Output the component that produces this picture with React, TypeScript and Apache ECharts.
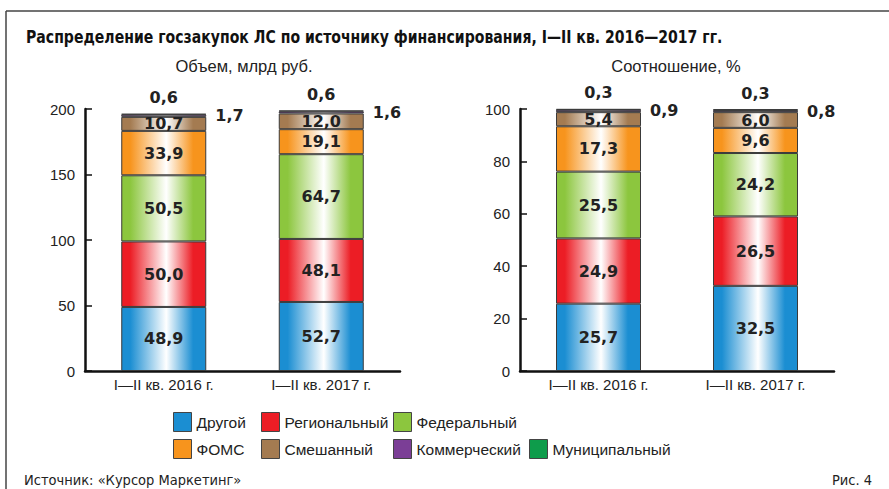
import React, { useEffect, useRef } from "react";
import * as echarts from "echarts";

const categories = ["I—II кв. 2016 г.", "I—II кв. 2017 г."];
const seriesNames = ["Другой", "Региональный", "Федеральный", "ФОМС", "Смешанный", "Коммерческий", "Муниципальный"];
const seriesColors = ["#1b8ed2", "#ec1d25", "#8cc63e", "#f7941d", "#a47b51", "#7b3e96", "#0e9c4b"];

// Объем, млрд руб.
const volOther = [48.9, 52.7];
const volRegional = [50.0, 48.1];
const volFederal = [50.5, 64.7];
const volFoms = [33.9, 19.1];
const volMixed = [10.7, 12.0];
const volCommercial = [1.7, 1.6];
const volMunicipal = [0.6, 0.6];

// Соотношение, %
const shrOther = [25.7, 32.5];
const shrRegional = [24.9, 26.5];
const shrFederal = [25.5, 24.2];
const shrFoms = [17.3, 9.6];
const shrMixed = [5.4, 6.0];
const shrCommercial = [0.9, 0.8];
const shrMunicipal = [0.3, 0.3];

const volTicks = [0, 200, 50];
const shrTicks = [0, 100, 20];

const volData = [volOther, volRegional, volFederal, volFoms, volMixed, volCommercial, volMunicipal];
const shrData = [shrOther, shrRegional, shrFederal, shrFoms, shrMixed, shrCommercial, shrMunicipal];

const FONT = "'Liberation Sans', Arial, Helvetica, sans-serif";
const BOLDFONT = "'DejaVu Sans', 'Liberation Sans', sans-serif";
const NARROW = "'DejaVu Sans Condensed', 'Liberation Sans', sans-serif";

const fmt = (v: number) => v.toFixed(1).replace(".", ",");

function grad(c: string) {
  return new echarts.graphic.LinearGradient(0, 0, 1, 0, [
    { offset: 0, color: c },
    { offset: 0.1, color: c },
    { offset: 0.53, color: "#ffffff" },
    { offset: 0.85, color: c },
    { offset: 1, color: c },
  ]);
}

function makeSeries(data: number[][], idx: number, stack: string) {
  return data.map((vals, i) => {
    let label: any = {
      show: true,
      position: "inside",
      formatter: (p: any) => fmt(p.value),
      fontFamily: BOLDFONT,
      fontWeight: "bold",
      fontSize: 16,
      color: "#222",
    };
    if (i === 5) label = { ...label, position: "right", distance: 9 };
    if (i === 6) label = { ...label, position: "top", distance: 8 };
    return {
      name: seriesNames[i],
      type: "bar",
      stack,
      xAxisIndex: idx,
      yAxisIndex: idx,
      barWidth: 85,
      data: vals,
      itemStyle: { color: grad(seriesColors[i]), borderColor: "#3a3a3a", borderWidth: 1 },
      label,
      emphasis: { disabled: true },
    };
  });
}

function xAxis(gridIndex: number) {
  return {
    type: "category",
    gridIndex,
    data: categories,
    axisLine: { lineStyle: { color: "#111", width: 2.5 } },
    axisTick: { inside: true, length: 7, lineStyle: { color: "#111", width: 1.5 } },
    axisLabel: { fontFamily: FONT, fontSize: 15, color: "#222", margin: 6 },
  };
}

function yAxis(gridIndex: number, t: number[]) {
  return {
    type: "value",
    gridIndex,
    min: t[0],
    max: t[1],
    interval: t[2],
    axisLine: { show: true, lineStyle: { color: "#111", width: 2.5 } },
    axisTick: { show: true, inside: true, length: 7, lineStyle: { color: "#111", width: 1.5 } },
    axisLabel: { fontFamily: FONT, fontSize: 15, color: "#222", margin: 10 },
    splitLine: { show: false },
  };
}

const legendPos = [
  [173, 412],
  [261, 412],
  [393, 412],
  [173, 439],
  [261, 439],
  [393, 439],
  [529, 439],
];

export default function App() {
  const ref = useRef<HTMLDivElement>(null);
  useEffect(() => {
    if (!ref.current) return;
    const chart = echarts.init(ref.current, undefined, { renderer: "svg" });
    const legends = seriesNames.map((n, i) => ({
      left: legendPos[i][0],
      top: legendPos[i][1],
      padding: 0,
      icon: "rect",
      itemWidth: 18,
      itemHeight: 19,
      selectedMode: false,
      textStyle: { fontFamily: FONT, fontSize: 15.5, color: "#222" },
      data: [{ name: n, itemStyle: { color: seriesColors[i], borderColor: "#444", borderWidth: 1 } }],
    }));
    chart.setOption({
      animation: false,
      backgroundColor: "#fff",
      grid: [
        { left: 85, top: 109, width: 315, height: 262 },
        { left: 520, top: 109, width: 314, height: 262 },
      ],
      xAxis: [xAxis(0), xAxis(1)],
      yAxis: [yAxis(0, volTicks), yAxis(1, shrTicks)],
      legend: legends,
      series: [...makeSeries(volData, 0, "vol"), ...makeSeries(shrData, 1, "shr")],
      graphic: [
        { type: "line", shape: { x1: 6, y1: 11, x2: 889, y2: 11 }, style: { stroke: "#444", lineWidth: 1.5 } },
        { type: "line", shape: { x1: 6, y1: 11, x2: 6, y2: 489 }, style: { stroke: "#444", lineWidth: 1.5 } },
        {
          type: "text",
          x: 26,
          y: 37,
          scaleX: 0.92,
          style: {
            text: "Распределение госзакупок ЛС по источнику финансирования, I—II кв. 2016—2017 гг.",
            fontFamily: NARROW,
            fontWeight: "bold",
            fontSize: 17,
            fill: "#111",
            verticalAlign: "middle",
          },
        },
        {
          type: "text",
          x: 244,
          y: 66,
          style: { text: "Объем, млрд руб.", fontFamily: FONT, fontSize: 16.5, fill: "#222", align: "center", verticalAlign: "middle" },
        },
        {
          type: "text",
          x: 676,
          y: 66,
          style: { text: "Соотношение, %", fontFamily: FONT, fontSize: 16.5, fill: "#222", align: "center", verticalAlign: "middle" },
        },
        {
          type: "text",
          x: 24,
          y: 480,
          style: { text: "Источник: «Курсор Маркетинг»", fontFamily: NARROW, fontSize: 14.5, fill: "#222", verticalAlign: "middle" },
        },
        {
          type: "text",
          x: 872,
          y: 480,
          style: { text: "Рис. 4", fontFamily: NARROW, fontSize: 14.5, fill: "#222", align: "right", verticalAlign: "middle" },
        },
      ],
    });
    return () => chart.dispose();
  }, []);
  return (
    <div
      ref={ref}
      style={{ position: "fixed", left: 0, top: 0, width: 889, height: 489, background: "#fff" }}
    />
  );
}
